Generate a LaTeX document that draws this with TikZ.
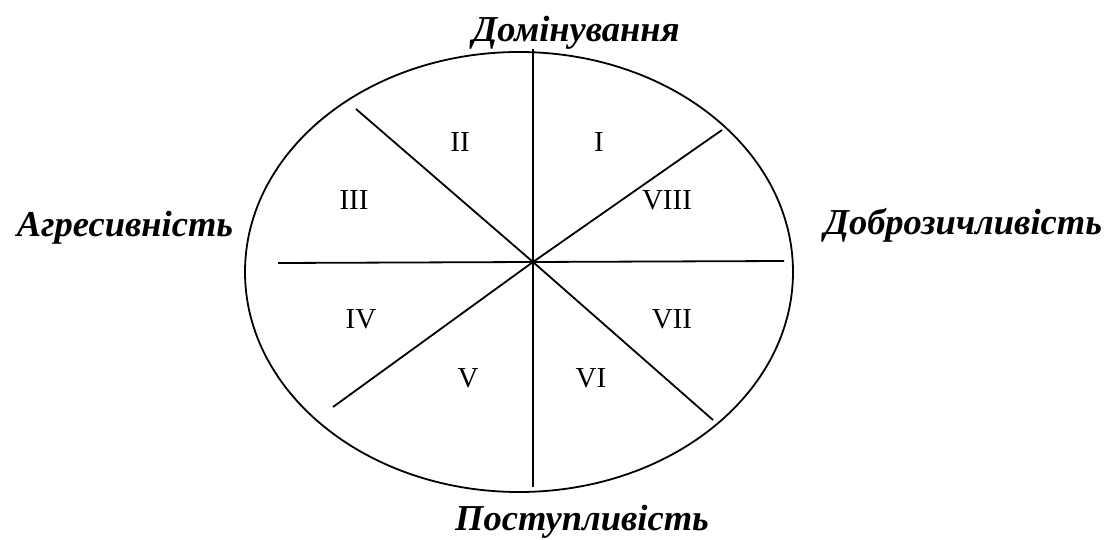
\documentclass[tikz,border=0pt]{standalone}
\usepackage{fontspec}
\setmainfont{Liberation Serif}
\begin{document}
\begin{tikzpicture}[x=1pt,y=1pt,
  ln/.style={line width=1.8pt},
  roman/.style={font=\fontsize{29}{32}\selectfont, inner sep=0pt},
  axis/.style={font=\fontsize{36.5}{42}\selectfont\bfseries\itshape, inner sep=0pt, anchor=base}]
\useasboundingbox (0,0) rectangle (1109,539);
\draw[ln] (519,267) ellipse [x radius=274, y radius=220];
\coordinate (c) at (533,277);
\coordinate (w) at (278,276);
\coordinate (e) at (784,278);
\coordinate (n) at (533,490);
\coordinate (s) at (533,52);
\coordinate (nw) at (356,430);
\coordinate (se) at (713,119);
\coordinate (ne) at (722,409);
\coordinate (sw) at (333,132);
\draw[ln] (w) -- (e);
\draw[ln] (n) -- (s);
\draw[ln] (nw) -- (c) -- (se);
\draw[ln] (ne) -- (c) -- (sw);
\node[roman] (r1) at (599,397) {I};
\node[roman] (r2) at (460,397) {II};
\node[roman] (r3) at (354,339) {III};
\node[roman] (r8) at (667,339) {VIII};
\node[roman] (r4) at (361,220) {IV};
\node[roman] (r7) at (672,220) {VII};
\node[roman] (r5) at (468,161) {V};
\node[roman] (r6) at (591,161) {VI};
\node[axis] (top) at (576,497) {Домінування};
\node[axis] (left) at (125,302) {Агресивність};
\node[axis] (right) at (963,304) {Доброзичливість};
\node[axis] (bottom) at (582,9) {Поступливість};
\end{tikzpicture}
\end{document}
